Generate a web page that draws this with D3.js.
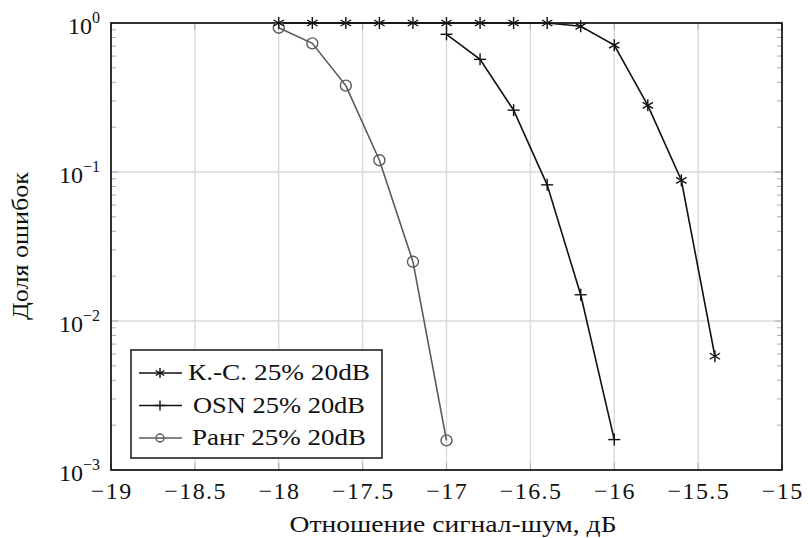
<!DOCTYPE html>
<html>
<head>
<meta charset="utf-8">
<script src="https://cdn.jsdelivr.net/npm/d3@7"></script>
<style>
  body { margin: 0; background: #fff; }
  text { font-family: "Liberation Serif", "DejaVu Serif", serif; fill: #111; }
</style>
</head>
<body>
<div id="chart"></div>
<script>
// data
var snrKS   = [-18, -17.8, -17.6, -17.4, -17.2, -17, -16.8, -16.6, -16.4, -16.2, -16, -15.8, -15.6, -15.4];
var errKS   = [1, 1, 1, 1, 1, 1, 1, 1, 1, 0.95, 0.71, 0.28, 0.088, 0.0058];
var snrOSN  = [-17, -16.8, -16.6, -16.4, -16.2, -16];
var errOSN  = [0.84, 0.57, 0.26, 0.082, 0.015, 0.0016];
var snrRank = [-18, -17.8, -17.6, -17.4, -17.2, -17];
var errRank = [0.93, 0.73, 0.38, 0.12, 0.025, 0.00158];
var seriesNames = ["К.-С. 25% 20dB", "OSN 25% 20dB", "Ранг 25% 20dB"];
var xTicks = [-19, -18.5, -18, -17.5, -17, -16.5, -16, -15.5, -15];
var yTicks = [1e-3, 1e-2, 1e-1, 1];

var width = 808, height = 538;
var padL = 111, padR = 782, padT = 23, padB = 470;

var svg = d3.select("#chart").append("svg")
	.attr("width", width)
	.attr("height", height);

var x = d3.scaleLinear().domain([-19, -15]).range([padL, padR]);
var y = d3.scaleLog().domain([1e-3, 1]).range([padB, padT]);

// grid
svg.append("g").selectAll("line").data(xTicks.slice(1, -1)).enter().append("line")
	.attr("x1", function(d){ return x(d); }).attr("x2", function(d){ return x(d); })
	.attr("y1", padT).attr("y2", padB)
	.attr("stroke", "#dadada").attr("stroke-width", 1.4);
svg.append("g").selectAll("line").data(yTicks.slice(1, -1)).enter().append("line")
	.attr("x1", padL).attr("x2", padR)
	.attr("y1", function(d){ return y(d); }).attr("y2", function(d){ return y(d); })
	.attr("stroke", "#dadada").attr("stroke-width", 1.4);

// ticks
var minor = [];
[1e-3, 1e-2, 1e-1].forEach(function(dec){
	for (var k = 2; k <= 9; k++) minor.push(dec * k);
});
[padL, padR].forEach(function(px){
	var dir = px == padL ? 1 : -1;
	svg.append("g").selectAll("line").data(minor).enter().append("line")
		.attr("x1", px).attr("x2", px + dir * 5)
		.attr("y1", function(d){ return y(d); }).attr("y2", function(d){ return y(d); })
		.attr("stroke", "#aaa").attr("stroke-width", 1);
	svg.append("g").selectAll("line").data(yTicks).enter().append("line")
		.attr("x1", px).attr("x2", px + dir * 7)
		.attr("y1", function(d){ return y(d); }).attr("y2", function(d){ return y(d); })
		.attr("stroke", "#aaa").attr("stroke-width", 1);
});
[padT, padB].forEach(function(py){
	var dir = py == padB ? -1 : 1;
	svg.append("g").selectAll("line").data(xTicks).enter().append("line")
		.attr("x1", function(d){ return x(d); }).attr("x2", function(d){ return x(d); })
		.attr("y1", py).attr("y2", py + dir * 7)
		.attr("stroke", "#aaa").attr("stroke-width", 1);
});

// frame
svg.append("rect")
	.attr("x", padL).attr("y", padT)
	.attr("width", padR - padL).attr("height", padB - padT)
	.attr("fill", "none").attr("stroke", "#000").attr("stroke-width", 1.6);

// tick labels
svg.append("g").selectAll("text").data(xTicks).enter().append("text")
	.attr("x", function(d){ return x(d) + 0.7; })
	.attr("y", padB + 29)
	.style("text-anchor", "middle")
	.style("font-size", "24px")
	.style("letter-spacing", "1.4px")
	.text(function(d){ return String(d).replace("-", "\u2212"); });

var yl = svg.append("g").selectAll("text").data(yTicks).enter().append("text")
	.attr("x", padL - 11)
	.attr("y", function(d){ return y(d) + 11; })
	.style("text-anchor", "end")
	.style("font-size", "24px");
yl.append("tspan").text("10");
yl.append("tspan")
	.attr("dy", -11)
	.style("font-size", "16px")
	.text(function(d){ var e = Math.round(Math.log10(d)); return e == 0 ? "0" : "\u2212" + (-e); });

// axis titles
svg.append("text")
	.attr("x", 453)
	.attr("y", 532)
	.style("text-anchor", "middle")
	.style("font-size", "24px")
	.attr("textLength", 327)
	.attr("lengthAdjust", "spacingAndGlyphs")
	.text("Отношение сигнал-шум, дБ");
svg.append("text")
	.attr("transform", "translate(28,246) rotate(-90)")
	.style("text-anchor", "middle")
	.style("font-size", "24px")
	.attr("textLength", 148)
	.attr("lengthAdjust", "spacingAndGlyphs")
	.text("Доля ошибок");

// lines
var line = d3.line()
	.x(function(d){ return x(d[0]); })
	.y(function(d){ return y(d[1]); });

var dKS = d3.zip(snrKS, errKS),
	dOSN = d3.zip(snrOSN, errOSN),
	dRank = d3.zip(snrRank, errRank);

svg.append("path").datum(dRank).attr("d", line)
	.attr("fill", "none").attr("stroke", "#5a5a5a").attr("stroke-width", 1.6);
svg.append("path").datum(dOSN).attr("d", line)
	.attr("fill", "none").attr("stroke", "#111").attr("stroke-width", 1.6);
svg.append("path").datum(dKS).attr("d", line)
	.attr("fill", "none").attr("stroke", "#111").attr("stroke-width", 1.6);

// markers
function star(g, cx, cy, r) {
	for (var i = 0; i < 3; i++) {
		var a = Math.PI / 2 + i * Math.PI / 3;
		g.append("line")
			.attr("x1", cx + r * Math.cos(a)).attr("y1", cy + r * Math.sin(a))
			.attr("x2", cx - r * Math.cos(a)).attr("y2", cy - r * Math.sin(a))
			.attr("stroke", "#111").attr("stroke-width", 1.4);
	}
}
function plus(g, cx, cy, r) {
	g.append("line").attr("x1", cx - r).attr("x2", cx + r).attr("y1", cy).attr("y2", cy)
		.attr("stroke", "#111").attr("stroke-width", 1.4);
	g.append("line").attr("x1", cx).attr("x2", cx).attr("y1", cy - r).attr("y2", cy + r)
		.attr("stroke", "#111").attr("stroke-width", 1.4);
}
function circ(g, cx, cy, r) {
	g.append("circle").attr("cx", cx).attr("cy", cy).attr("r", r)
		.attr("fill", "none").attr("stroke", "#5a5a5a").attr("stroke-width", 1.4);
}

var mk = svg.append("g");
dRank.forEach(function(d){ circ(mk, x(d[0]), y(d[1]), 5.5); });
dOSN.forEach(function(d){ plus(mk, x(d[0]), y(d[1]), 6); });
dKS.forEach(function(d){ star(mk, x(d[0]), y(d[1]), 6); });

// legend
var lg = svg.append("g");
lg.append("rect")
	.attr("x", 131).attr("y", 350).attr("width", 251).attr("height", 108)
	.attr("fill", "#fff").attr("stroke", "#222").attr("stroke-width", 1.6);
var markers = [star, plus, circ];
var lcol = ["#111", "#111", "#5a5a5a"];
var ltx = [188, 193, 192], llen = [182, 172, 174];
seriesNames.forEach(function(name, i){
	var ly = 373 + i * 32.5;
	lg.append("line").attr("x1", 139).attr("x2", 182).attr("y1", ly).attr("y2", ly)
		.attr("stroke", lcol[i]).attr("stroke-width", 1.4);
	markers[i](lg, 160, ly, i == 2 ? 4 : 5);
	lg.append("text")
		.attr("x", ltx[i]).attr("y", ly + 7)
		.style("font-size", "23px")
		.attr("textLength", llen[i])
		.attr("lengthAdjust", "spacingAndGlyphs")
		.text(name);
});
</script>
</body>
</html>
